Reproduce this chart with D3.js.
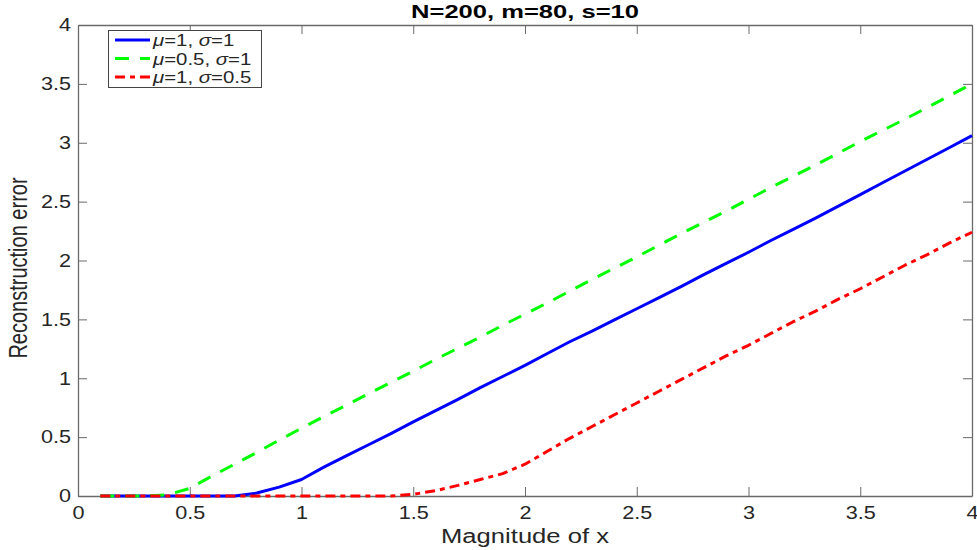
<!DOCTYPE html>
<html><head><meta charset="utf-8">
<script src="https://cdn.jsdelivr.net/npm/d3@7"></script>
<style>body{margin:0;background:#fff}svg{display:block}</style>
</head><body><svg id="c" width="977" height="550"></svg>
<script>
// ---- data ----
const magnitudes = [0.1,0.2,0.3,0.4,0.5,0.6,0.7,0.8,0.9,1.0,1.1,1.2,1.3,1.4,1.5,1.6,1.7,1.8,1.9,2.0,
  2.1,2.2,2.3,2.4,2.5,2.6,2.7,2.8,2.9,3.0,3.1,3.2,3.3,3.4,3.5,3.6,3.7,3.8,3.9,4.0];
const errMu1Sigma1 = [0,0,0,0,0,0,0,0.025,0.075,0.14,0.245,0.34,0.435,0.53,0.63,0.725,0.82,0.92,1.015,1.11,
  1.21,1.31,1.40,1.495,1.59,1.685,1.78,1.88,1.975,2.07,2.17,2.265,2.36,2.46,2.56,2.66,2.76,2.86,2.96,3.06];
const errMu05Sigma1 = [0,0,0,0.01,0.065,0.17,0.27,0.37,0.475,0.575,0.675,0.77,0.87,0.965,1.06,1.16,1.255,1.35,1.45,1.545,
  1.64,1.74,1.84,1.935,2.03,2.13,2.23,2.325,2.42,2.52,2.62,2.715,2.81,2.91,3.01,3.105,3.2,3.3,3.4,3.5];
const errMu1Sigma05 = [0,0,0,0,0,0,0,0,0,0,0,0,0,0,0.015,0.045,0.09,0.14,0.19,0.27,
  0.38,0.49,0.59,0.69,0.79,0.89,0.99,1.09,1.19,1.28,1.38,1.48,1.57,1.67,1.76,1.86,1.96,2.05,2.15,2.24];
const legendMu = ["1","0.5","1"];
const legendSigma = ["1","1","0.5"];
const xTicks = [0,0.5,1,1.5,2,2.5,3,3.5,4];
const yTicks = [0,0.5,1,1.5,2,2.5,3,3.5,4];
const titleText = "N=200, m=80, s=10";
const xLabelText = "Magnitude of x";
const yLabelText = "Reconstruction error";

// ---- chart ----
const svg = d3.select("#c");
const L = 78, R = 972, T = 25, B = 496;
const x = d3.scaleLinear().domain([0,4]).range([L,R]);
const y = d3.scaleLinear().domain([0,4]).range([B,T]);
const font = "'Liberation Sans', Arial, Helvetica, sans-serif";
const axisCol = "#6a6a6a";
const textCol = "#262626";

function stretch(sel, k){
  sel.each(function(){
    const l = this.getComputedTextLength();
    this.setAttribute("textLength", l*k);
    this.setAttribute("lengthAdjust","spacingAndGlyphs");
  });
}

const fmt = d => String(d);
const gB = svg.append("g").attr("transform",`translate(0,${B})`)
  .call(d3.axisBottom(x).tickValues(xTicks).tickFormat(fmt).tickSizeInner(-9).tickSizeOuter(0).tickPadding(10));
const gL = svg.append("g").attr("transform",`translate(${L},0)`)
  .call(d3.axisLeft(y).tickValues(yTicks).tickFormat(fmt).tickSizeInner(-9).tickSizeOuter(0).tickPadding(7));
const gT = svg.append("g").attr("transform",`translate(0,${T})`)
  .call(d3.axisTop(x).tickValues(xTicks).tickFormat("").tickSizeInner(-9).tickSizeOuter(0));
const gR = svg.append("g").attr("transform",`translate(${R},0)`)
  .call(d3.axisRight(y).tickValues(yTicks).tickFormat("").tickSizeInner(-9).tickSizeOuter(0));
[gB,gL,gT,gR].forEach(g=>{
  g.selectAll("path.domain").attr("stroke",axisCol).attr("stroke-width",1.3);
  g.selectAll(".tick line").attr("stroke",axisCol).attr("stroke-width",1);
  g.selectAll("text").attr("fill",textCol).style("font-family",font).style("font-size","18px");
});
stretch(gB.selectAll(".tick text"),1.2);
stretch(gL.selectAll(".tick text"),1.2);

// lines
const line = d3.line().x((d,i)=>x(magnitudes[i])).y(d=>y(d));
const series = [
  {vals: errMu1Sigma1, color:"#0000ff", dash:null},
  {vals: errMu05Sigma1, color:"#00ff00", dash:"14,11"},
  {vals: errMu1Sigma05, color:"#ff0000", dash:"10,5,5,5"}
];
series.forEach(s=>{
  svg.append("path").datum(s.vals).attr("d",line)
    .attr("fill","none").attr("stroke",s.color).attr("stroke-width",3)
    .attr("stroke-dasharray",s.dash).attr("stroke-linejoin","round");
});

// title (stretched horizontally to the reference width)
const tg = svg.append("g");
const tt = tg.append("text").attr("text-anchor","middle")
  .style("font-family",font).style("font-size","18.5px").style("font-weight","bold")
  .attr("fill","#000").text(titleText);
const tLen = tt.node().getComputedTextLength();
tg.attr("transform",`translate(${(L+R)/2},18) scale(${228/tLen},1)`);

// x label
svg.append("g").attr("transform",`translate(${(L+R)/2},543) scale(1.28,1)`)
  .append("text").attr("text-anchor","middle")
  .style("font-family",font).style("font-size","20px").attr("fill",textCol).text(xLabelText);

// y label
svg.append("g").attr("transform",`translate(27,268) scale(1.28,1) rotate(-90)`)
  .append("text").attr("text-anchor","middle")
  .style("font-family",font).style("font-size","20px").attr("fill",textCol).text(yLabelText);

// legend
const lg = svg.append("g");
lg.append("rect").attr("x",108.5).attr("y",30.5).attr("width",153).attr("height",57)
  .attr("fill","#fff").attr("stroke","#444").attr("stroke-width",1);
const rowY = [40,58.5,77];
series.forEach((s,i)=>{
  lg.append("line").attr("x1",115).attr("x2",150).attr("y1",rowY[i]).attr("y2",rowY[i])
    .attr("stroke",s.color).attr("stroke-width",3).attr("stroke-dasharray",s.dash);
  const t = lg.append("g").attr("transform",`translate(153,${rowY[i]+6}) scale(1.2,1)`)
    .append("text").style("font-family",font).style("font-size","17px").attr("fill",textCol);
  t.append("tspan").style("font-style","italic").text("μ");
  t.append("tspan").text("=" + legendMu[i] + ", ");
  t.append("tspan").style("font-style","italic").text("σ");
  t.append("tspan").text("=" + legendSigma[i]);
});
</script></body></html>
